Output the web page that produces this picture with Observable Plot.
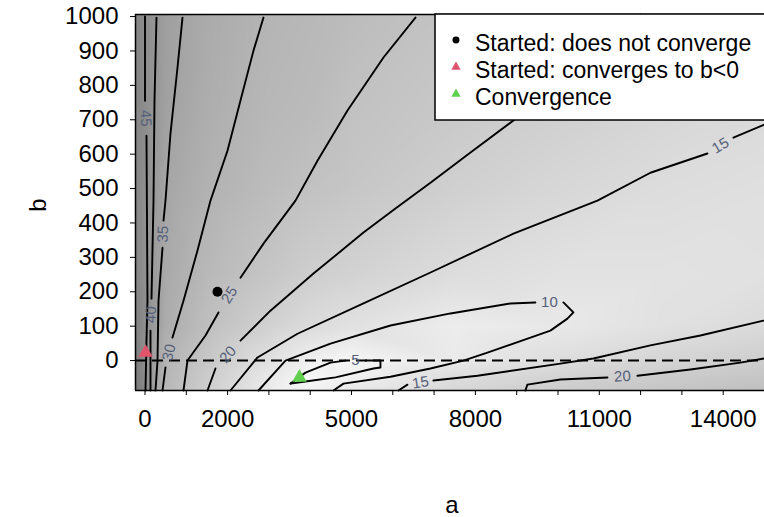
<!DOCTYPE html>
<html><head><meta charset="utf-8">
<script src="https://cdn.jsdelivr.net/npm/d3@7"></script>
<script src="https://cdn.jsdelivr.net/npm/@observablehq/plot@0.6"></script>
<style>
html,body{margin:0;padding:0;background:#fff;overflow:hidden}
#chart{position:relative;width:764px;height:517px}
</style></head><body><div id="chart"></div>
<script>
// ---- axes ----
const xTicks = d3.range(0, 14001, 1000);
const xTickLabels = [0, 2000, 5000, 8000, 11000, 14000];
const yTicks = d3.range(0, 1001, 100);
const xDomain = [-230, 15000];
const yDomain = [-87, 1006];
const xTitle = "a";
const yTitle = "b";

// ---- contour traces (a, b); each contour = pieces broken at its label ----
const contour45 = [[[0,1000],[0,755]], [[36,654],[60,174],[36,58],[12,-87]]];
const contour40 = [[[278,997],[230,756],[206,465],[157,180]], [[133,87],[133,-87]]];
const contour35 = [[[908,997],[787,852],[617,660],[496,465],[448,407]], [[424,328],[327,174],[303,0],[254,-87]]];
const contour30 = [[[2869,997],[2627,901],[2312,756],[1997,610],[1586,465],[1271,320],[932,174],[666,67]], [[496,-20],[424,-87]]];
const contour25 = [[[6549,997],[5774,881],[4903,727],[4176,581],[3644,465],[2869,340],[2312,241]], [[1780,140],[1465,73],[1029,0],[932,-87]]];
const contour20 = [[[11996,1006],[10543,872],[8921,698],[7881,605],[6912,517],[6064,442],[5290,372],[4079,253],[3038,145],[2312,58]], [[1707,-23],[1513,-87]]];
const contour15 = [[[14998,686],[14248,648]], [[13618,602],[12238,546],[10955,465],[8921,369],[6912,256],[5290,166],[3692,78],[2724,9],[2070,-87]]];
const contour10 = [[[2748,-87],[3401,0],[4491,49],[5944,102],[7396,137],[8848,166],[9453,169]], [[10131,169],[10373,140],[10228,122],[9816,87],[8291,23],[7710,0],[6912,-23],[5944,-47],[4806,-67],[4564,-87]]];
const contour5 = [[[3523,-67],[3886,-35],[4491,-6],[4854,0]], [[5338,0],[5701,0],[5701,-20],[5532,-23],[4612,-49],[3886,-61],[3523,-67]]];
const contour15b = [[[6137,-87],[6355,-70]], [[6985,-58],[8050,-44],[10059,-9],[10858,6],[12238,44],[13449,73],[14974,116]]];
const contour20b = [[[9210,-87],[9259,-70],[10059,-55],[11197,-49]], [[11923,-44],[13207,-26],[14417,-6],[14998,6]]];
const contourLevels = [45, 40, 35, 30, 25, 20, 15, 10, 5, 15, 20];
const contourTraces = [contour45, contour40, contour35, contour30, contour25, contour20, contour15, contour10, contour5, contour15b, contour20b];

const gridA = [-250, 500, 1500, 3000, 4000, 5000, 7500, 10000, 12500, 15100];
const gridB = [-100, -50, 0, 100, 250, 500, 750, 1020];
const gridF = [
  [55, 28.5, 19.8, 8.5, 7,   11,   17.2, 21.5, 24,   26.5],
  [53, 29,   21,   10,  4.5, 7,    14.5, 18.2, 21,   23.5],
  [52, 30,   22.5, 12.9,7,   5,    9.5,  14,   17.4, 20.2],
  [50, 33,   26,   18.8,15,  12.8, 8.5,  10,   12.8, 15.5],
  [48, 34,   28.2, 23.2,20,  18.4, 14.5, 12.5, 12.5, 13],
  [48, 35.4, 30.8, 26.9,24.7,23.1, 19.4, 16.7, 14.5, 13.5],
  [48, 37.2, 32.5, 28.7,27.6,24.9, 22.2, 19.8, 17.3, 15.7],
  [48, 38,   33.5, 29.8,28.5,27.1, 24.1, 21.8, 19.5, 17.5]
];

// ---- points ----
const pointNames = ["Started: does not converge", "Started: converges to b<0", "Convergence"];
const pointA = [1755, 12, 3740];
const pointB = [200, 23, -49];
const pointColors = ["#000000", "#DF536B", "#61D04F"];
const pointSymbols = ["circle", "triangle", "triangle"];

// ---- build tables ----
const gridData = [];
gridB.forEach((b, i) => gridA.forEach((a, j) => gridData.push({a, b, f: gridF[i][j]})));

const lineData = [];
contourTraces.forEach((pieces, ci) => pieces.forEach((piece, pi) =>
  piece.forEach(([a, b]) => lineData.push({a, b, id: ci + "-" + pi}))));

const W = 764, H = 517, mL = 135, mT = 14, mB = 127, mR = 0;
const pxA = (W - mL - mR) / (xDomain[1] - xDomain[0]);
const pxB = (H - mT - mB) / (yDomain[1] - yDomain[0]);
const labelData = [];
contourTraces.forEach((pieces, ci) => {
  for (let k = 0; k + 1 < pieces.length; k++) {
    const p = pieces[k][pieces[k].length - 1], q = pieces[k + 1][0];
    let ang = Math.atan2(-(q[1] - p[1]) * pxB, (q[0] - p[0]) * pxA) * 180 / Math.PI;
    while (ang >= 90) ang -= 180;
    while (ang < -90) ang += 180;
    labelData.push({a: (p[0] + q[0]) / 2, b: (p[1] + q[1]) / 2, text: String(contourLevels[ci]), rotate: ang});
  }
});

const pointData = pointNames.map((n, i) => ({name: n, a: pointA[i], b: pointB[i]}));

const font = "'Liberation Sans', Arial, Helvetica, sans-serif";

const dotMarks = pointData.map((d, i) => Plot.dot([d], {x: "a", y: "b",
  symbol: pointSymbols[i], fill: pointColors[i], r: i === 0 ? 5 : 5.4, stroke: "none"}));

const plot = Plot.plot({
  width: W, height: H,
  marginLeft: mL, marginTop: mT, marginBottom: mB, marginRight: mR,
  style: {fontFamily: font, background: "white", color: "black"},
  x: {domain: xDomain},
  y: {domain: yDomain},
  color: {type: "linear", domain: [3, 52], range: ["#fbfbfb", "#7a7a7a"]},
  marks: [
    Plot.raster(gridData, {x: "a", y: "b", fill: "f", interpolate: "barycentric",
      x1: xDomain[0], x2: xDomain[1], y1: yDomain[0], y2: yDomain[1]}),
    Plot.line(lineData, {x: "a", y: "b", z: "id", stroke: "black", strokeWidth: 1.9, curve: "linear"}),
    Plot.ruleY([0], {stroke: "black", strokeWidth: 2, strokeDasharray: "11,6"}),
    Plot.text(labelData, {x: "a", y: "b", text: "text", rotate: "rotate", fontSize: 15,
      fill: "#55607a", fontFamily: font}),
    ...dotMarks,
    Plot.ruleX([xDomain[0]], {stroke: "black", strokeWidth: 1.5}),
    Plot.ruleY([yDomain[0], yDomain[1]], {stroke: "black", strokeWidth: 1.5}),
    Plot.axisX({ticks: xTicks, tickFormat: d => xTickLabels.includes(d) ? String(d) : "",
      tickSize: 5, tickPadding: 14, fontSize: 24, label: null}),
    Plot.axisY({ticks: yTicks, tickFormat: d => String(d), tickSize: 5, tickPadding: 12, fontSize: 24, label: null})
  ]
});

const svg = d3.select(plot);
svg.append("text").attr("x", 452).attr("y", 513).attr("text-anchor", "middle")
  .attr("font-size", 24).attr("font-family", font).attr("fill", "black").text(xTitle);
svg.append("text").attr("transform", "translate(46,205) rotate(-90)").attr("text-anchor", "middle")
  .attr("font-size", 24).attr("font-family", font).attr("fill", "black").text(yTitle);

// legend
const lg = svg.append("g");
lg.append("rect").attr("x", 435).attr("y", 14).attr("width", 340).attr("height", 106)
  .attr("fill", "white").attr("stroke", "black").attr("stroke-width", 1.5);
pointNames.forEach((n, i) => {
  const cy = 40 + i * 27;
  const sym = pointSymbols[i] === "circle" ? d3.symbolCircle : d3.symbolTriangle;
  lg.append("path").attr("d", d3.symbol(sym, 38)())
    .attr("transform", `translate(456,${cy})`).attr("fill", pointColors[i]);
  lg.append("text").attr("x", 475).attr("y", cy + 11).attr("text-anchor", "start").attr("font-size", 23)
    .attr("font-family", font).attr("fill", "black").text(n);
});

document.getElementById("chart").appendChild(plot);
</script></body></html>
